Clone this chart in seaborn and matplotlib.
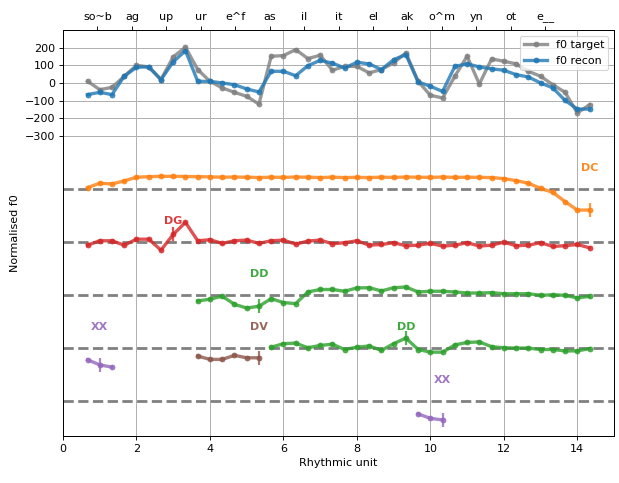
import numpy as np
import matplotlib
matplotlib.use('Agg')
import matplotlib.pyplot as plt
import seaborn as sns

# rhythmic units on the top axis
unit_labels = ['so~b', 'ag', 'up', 'ur', 'e^f', 'as', 'il', 'it', 'el', 'ak', 'o^m', 'yn', 'ot', 'e__']
units = list(range(1, 15))
sample_offsets = [-1 / 3, 0, 1 / 3]

f0_target = [10, -38, -25, 38, 100, 91, 19, 148, 202, 76, 9, -28, -53, -76, -120, 151, 155, 189, 138, 157, 72,
             94, 94, 57, 76, 114, 170, 9, -70, -85, 38, 151, -6, 136, 123, 108, 66, 38, -10, -53, -170, -123]
f0_recon = [-66, -53, -66, 38, 89, 91, 19, 119, 183, 9, 9, 0, -10, -34, -51, 66, 66, 41, 98, 128, 112,
            85, 117, 108, 76, 132, 161, 6, -19, -48, 94, 108, 91, 80, 72, 47, 34, 0, -28, -99, -148, -148]

# contour generators: (label, colour, baseline level, first sample, landmark sample, values)
dc_values = [-593, -568, -572, -555, -534, -531, -529, -529, -530, -531, -532, -534, -533, -534, -536, -534, -535,
             -533, -534, -536, -534, -536, -535, -536, -534, -535, -533, -534, -535, -533, -535, -534, -535, -536,
             -542, -553, -568, -597, -620, -672, -720, -720]
dg_values = [-919, -894, -894, -919, -885, -885, -947, -858, -790, -894, -888, -909, -894, -890, -909, -894, -890,
             -913, -896, -890, -911, -905, -894, -919, -915, -905, -922, -919, -909, -924, -919, -905, -924, -919,
             -902, -922, -919, -905, -926, -922, -915, -934]
dd1_values = [-1235, -1225, -1208, -1254, -1275, -1265, -1222, -1244, -1250, -1184, -1170, -1170, -1180, -1161,
              -1160, -1178, -1160, -1156, -1184, -1180, -1180, -1184, -1190, -1190, -1188, -1194, -1194, -1194,
              -1203, -1200, -1203, -1218, -1209]
xx1_values = [-1568, -1597, -1610]
dv_values = [-1547, -1566, -1566, -1543, -1557, -1557]
dd2_values = [-1497, -1477, -1474, -1500, -1487, -1480, -1510, -1497, -1490, -1515, -1477, -1445, -1510, -1525,
              -1525, -1484, -1470, -1467, -1494, -1500, -1502, -1502, -1510, -1510, -1518, -1518, -1505]
xx2_values = [-1875, -1900, -1909]

contours = [
    ('DC', 'tab:orange', -600, 0, 41, dc_values),
    ('DG', 'tab:red', -900, 0, 7, dg_values),
    ('DD', 'tab:green', -1200, 9, 14, dd1_values),
    ('XX', 'tab:purple', -1500, 0, 1, xx1_values),
    ('DV', 'tab:brown', -1500, 9, 14, dv_values),
    ('DD', 'tab:green', -1500, 15, 26, dd2_values),
    ('XX', 'tab:purple', -1800, 27, 29, xx2_values),
]
levels = [-600, -900, -1200, -1500, -1800]

x_samples = np.array([u + o for u in units for o in sample_offsets])

fig = plt.figure(figsize=(619 / 80, 483 / 80), dpi=80)
ax = fig.add_axes([0.1018, 0.0973, 0.8902, 0.8406])

ax.grid(True, color='#b0b0b0', lw=0.9)
ax.set_axisbelow(True)

for level in levels:
    ax.axhline(level, color='gray', ls='--', lw=2.5, zorder=1)

line_kws = dict(lw=3, marker='.', ms=9, alpha=0.8, sort=False, estimator=None)
sns.lineplot(x=x_samples, y=f0_target, ax=ax, color='tab:gray', markeredgecolor='tab:gray', label='f0 target',
             **line_kws)
sns.lineplot(x=x_samples, y=f0_recon, ax=ax, color='tab:blue', markeredgecolor='tab:blue', label='f0 recon',
             **line_kws)

for name, colour, level, start, landmark, values in contours:
    xs = x_samples[start:start + len(values)]
    sns.lineplot(x=xs, y=values, ax=ax, color=colour, markeredgecolor=colour, legend=False, **line_kws)
    ax.plot(x_samples[landmark], values[landmark - start], marker='|', ms=12, mew=2, color=colour, alpha=0.8)
    ax.text(x_samples[landmark], level + 118, name, color=colour, fontweight='bold',
            ha='center', va='center', fontsize=10, alpha=0.9)

ax.set_xlim(0, 15)
ax.set_ylim(-2000, 300)
ax.set_yticks([200, 100, 0, -100, -200, -300])
ax.set_xlabel('Rhythmic unit')
ax.set_ylabel('Normalised f0')
ax.legend(loc='upper right')

top = ax.twiny()
top.set_xlim(0, 16)
top.set_xticks(units)
top.set_xticklabels(unit_labels)

fig.savefig('out.png', dpi=80)
